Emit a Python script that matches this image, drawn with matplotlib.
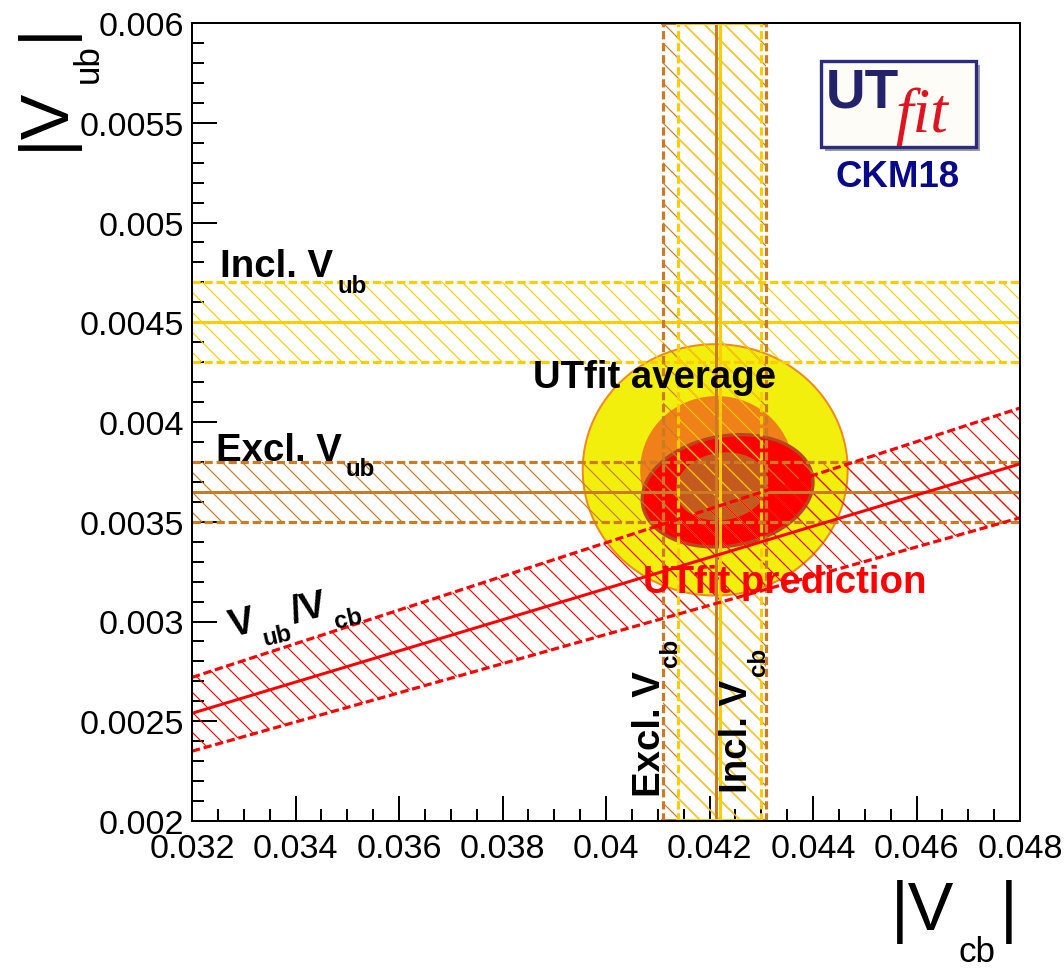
import numpy as np
import matplotlib
matplotlib.use('Agg')
import matplotlib.pyplot as plt
import matplotlib.transforms as mtransforms
from matplotlib.font_manager import FontProperties
from matplotlib.patches import Rectangle
from matplotlib.ticker import MultipleLocator

# axis ranges and ticks
x_range = [0.032, 0.048]
y_range = [0.002, 0.006]
x_ticks = [0.032, 0.034, 0.036, 0.038, 0.040, 0.042, 0.044, 0.046, 0.048]
x_tick_labels = ['0.032', '0.034', '0.036', '0.038', '0.04', '0.042', '0.044', '0.046', '0.048']
y_ticks = [0.002, 0.0025, 0.003, 0.0035, 0.004, 0.0045, 0.005, 0.0055, 0.006]
y_tick_labels = ['0.002', '0.0025', '0.003', '0.0035', '0.004', '0.0045', '0.005', '0.0055', '0.006']

# bands: central value, low, high
incl_vub = [0.0045, 0.0043, 0.0047]
excl_vub = [0.00365, 0.0035, 0.0038]
incl_vcb = [0.0422, 0.0414, 0.0430]
excl_vcb = [0.04212, 0.0411, 0.0431]

# Vub/Vcb band, read at both ends of the x axis
ratio_x = [0.032, 0.048]
ratio_mid = [0.00254, 0.00379]
ratio_lo = [0.00235, 0.00352]
ratio_hi = [0.00272, 0.00407]

# regions: centre x, centre y, half width, half height, tilt
avg_95 = [0.04211, 0.00376, 0.00256, 0.00063, 0.0]
avg_68 = [0.04214, 0.00376, 0.00148, 0.00037, 0.0]
pred_95 = [0.04235, 0.003655, 0.00165, 0.000278, 0.026]
pred_68 = [0.04224, 0.003677, 0.00089, 0.00017, 0.02]

YELLOW = '#ffcc00'
ORANGE = '#cd7a26'
RED = '#ff0000'
FONT = 'Liberation Sans'

W, H, DPI = 1064, 969, 120
plt.rcParams['hatch.linewidth'] = 0.7
plt.rcParams['font.family'] = [FONT, 'DejaVu Sans']

fig = plt.figure(figsize=(W / DPI, H / DPI), dpi=DPI)
ax = fig.add_axes([192 / W, (H - 822) / H, 828 / W, 798 / H])
ax.set_xlim(x_range)
ax.set_ylim(y_range)

renderer = fig.canvas.get_renderer()


def px(x, y_top):
    # figure pixel position, measured from the top-left corner
    return x, H - y_top


def rich(host, x, y, parts, trans, rot=0, color='black', weight='bold', style='normal', family=FONT):
    # text with ROOT-like subscripts: parts = [(text, size, drop_px)]
    th = np.deg2rad(rot)
    adv = 0.0
    for s, size, drop in parts:
        fp = FontProperties(family=family, weight=weight, style=style, size=size)
        dx = adv * np.cos(th) + drop * np.sin(th)
        dy = adv * np.sin(th) - drop * np.cos(th)
        host.text(x, y, s, transform=trans + mtransforms.Affine2D().translate(dx, dy),
                  rotation=rot, rotation_mode='anchor', ha='left', va='baseline',
                  fontproperties=fp, color=color, zorder=10)
        w, _, _ = renderer.get_text_width_height_descent(s, fp, ismath=False)
        adv += w + 4


def region(p, **kw):
    cx, cy, a, b, tilt = p
    t = np.linspace(0, 2 * np.pi, 240)
    xs = cx + a * np.cos(t)
    ys = cy + b * np.sin(t) + tilt * (xs - cx)
    ax.fill(xs, ys, **kw)


# UTfit regions
region(avg_95, facecolor='#f2ef0c', edgecolor='#ef8a1e', lw=1.2, zorder=1)
region(avg_68, facecolor='#f08018', edgecolor='none', zorder=2)
region(pred_95, facecolor=RED, edgecolor='#b8461e', lw=2.0, zorder=3)
region(pred_68, facecolor='#c45a1e', edgecolor='none', zorder=4)

dash = (0, (2.6, 1.2))

# horizontal bands
for band, col in [(excl_vub, ORANGE), (incl_vub, YELLOW)]:
    c, lo, hi = band
    ax.axhspan(lo, hi, facecolor='none', edgecolor=col, hatch='\\\\', lw=0, zorder=5)
    ax.axhline(lo, color=col, lw=1.9, ls=dash, zorder=6)
    ax.axhline(hi, color=col, lw=1.9, ls=dash, zorder=6)
    ax.axhline(c, color=col, lw=1.8, zorder=6)

# vertical bands
for band, col in [(excl_vcb, ORANGE), (incl_vcb, YELLOW)]:
    c, lo, hi = band
    ax.axvspan(lo, hi, facecolor='none', edgecolor=col, hatch='\\\\', lw=0, zorder=5)
    ax.axvline(lo, color=col, lw=1.9, ls=dash, zorder=6)
    ax.axvline(hi, color=col, lw=1.9, ls=dash, zorder=6)
    ax.axvline(c, color=col, lw=1.8, zorder=6)
    for yy in y_range:
        ax.plot([lo, hi], [yy, yy], color=col, lw=2.4, zorder=6)

# Vub/Vcb band
ax.fill_between(ratio_x, ratio_lo, ratio_hi, facecolor='none', edgecolor=RED, hatch='\\\\', lw=0, zorder=5)
ax.plot(ratio_x, ratio_lo, color=RED, lw=1.9, ls=dash, zorder=6)
ax.plot(ratio_x, ratio_hi, color=RED, lw=1.9, ls=dash, zorder=6)
ax.plot(ratio_x, ratio_mid, color=RED, lw=1.8, zorder=6)

# axes styling
for sp in ax.spines.values():
    sp.set_linewidth(1.2)
    sp.set_zorder(20)
ax.set_xticks(x_ticks)
ax.set_xticklabels(x_tick_labels)
ax.set_yticks(y_ticks)
ax.set_yticklabels(y_tick_labels)
ax.xaxis.set_minor_locator(MultipleLocator(0.0005))
ax.yaxis.set_minor_locator(MultipleLocator(0.0001))
ax.tick_params(which='both', direction='in', top=False, right=False, width=1.2, zorder=20)
ax.tick_params(which='major', length=15, labelsize=20.5)
ax.tick_params(which='minor', length=7)
ax.tick_params(axis='x', which='major', pad=7)
ax.tick_params(axis='y', which='major', pad=5)

# band labels
T = ax.transData
L, S = 23, 14.5
rich(ax, 0.03254, 0.004732, [('Incl. V', L, 0), ('ub', S, 16)], T)
rich(ax, 0.03246, 0.00381, [('Excl. V', L, 0), ('ub', S, 15)], T)
rich(ax, 0.03277, 0.002927, [('V', L, 0), ('ub', S, 16), ('/V', L, 0), ('cb', S, 16)], T, rot=13)
rich(ax, 0.041043, 0.002125, [('Excl. V', L, 0), ('cb', S, 17)], T, rot=90)
rich(ax, 0.042725, 0.002145, [('Incl. V', L, 0), ('cb', S, 18)], T, rot=90)
rich(ax, 0.038589, 0.004175, [('UTfit average', L, 0)], T)
rich(ax, 0.040715, 0.003148, [('UTfit prediction', L, 0)], T, color=RED)

# axis titles
I = mtransforms.IdentityTransform()
rich(fig, *px(891, 930), [('|V', 41, 0), ('cb', 21, 32), ('|', 41, 0)], I, weight='normal')
rich(fig, *px(63, 150), [('|V', 41, 0), ('ub', 21, 35), ('|', 41, 0)], I, rot=90, weight='normal')

# UTfit logo
x0, y0 = px(821, 148)
fig.add_artist(Rectangle((x0 + 4, y0 - 4), 155, 86, transform=I, facecolor='#9a9aa8', edgecolor='none', zorder=8))
fig.add_artist(Rectangle((x0, y0), 155, 86, transform=I, facecolor='#fdfcf6', edgecolor='#2c2c7c', lw=2, zorder=9))
rich(fig, *px(826, 108), [('UT', 33, 0)], I, color='#23236b')
rich(fig, *px(895, 132), [('fit', 38, 0)], I, color='#e0141e', weight='normal', style='italic', family='Liberation Serif')
fig.text(*px(898, 187), 'CKM18', transform=I, ha='center', va='baseline',
         fontsize=22, fontweight='bold', color='#08088c', family=FONT)

fig.savefig('out.png', dpi=DPI)
